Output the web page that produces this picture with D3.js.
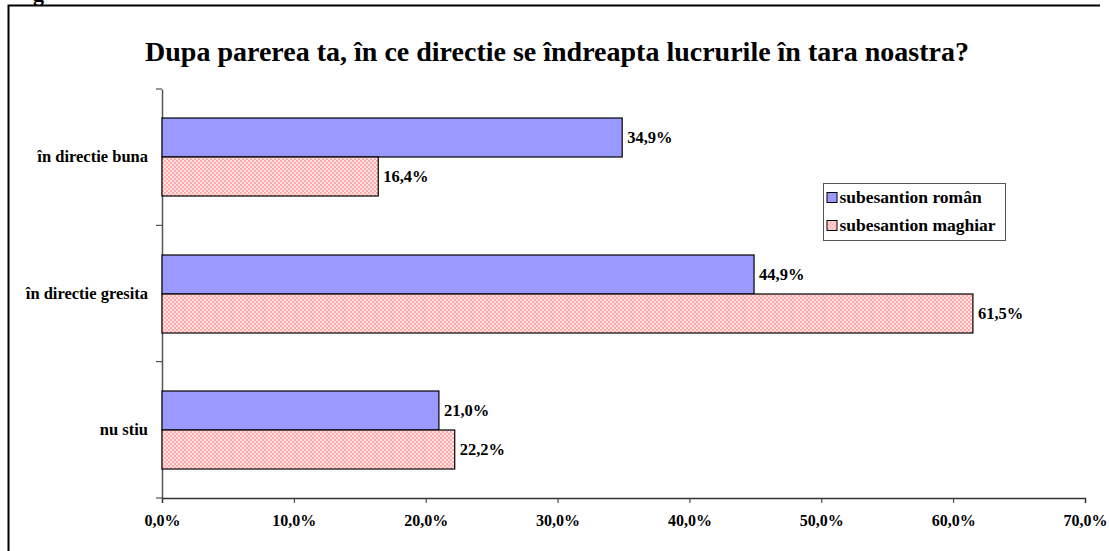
<!DOCTYPE html>
<html>
<head>
<meta charset="utf-8">
<script src="https://cdn.jsdelivr.net/npm/d3@7"></script>
<style>
  body { margin: 0; background: #fff; }
  svg { display: block; font-family: "Liberation Serif", "Times New Roman", serif; }
</style>
</head>
<body>
<div id="chart"></div>
<script>
// donnees
const categories = ["în directie buna", "în directie gresita", "nu stiu"];
const seriesNames = ["subesantion român", "subesantion maghiar"];
const roman = [34.9, 44.9, 21.0];
const maghiar = [16.4, 61.5, 22.2];
const xTicks = [0, 10, 20, 30, 40, 50, 60, 70];

const W = 1109, H = 551;
const margin = {top: 89, left: 162, right: W - 1085, bottom: H - 498};
const width = W - margin.left - margin.right,
      height = H - margin.top - margin.bottom;

const svg = d3.select("#chart").append("svg")
  .attr("width", W).attr("height", H);

// motif damier rose pour la serie maghiar
const defs = svg.append("defs");
const pat = defs.append("pattern")
  .attr("id", "checker")
  .attr("width", 4).attr("height", 4)
  .attr("patternUnits", "userSpaceOnUse");
pat.append("rect").attr("width", 4).attr("height", 4).attr("fill", "#ffe2e2")
  .attr("shape-rendering", "crispEdges");
pat.append("path").attr("d", "M0,0h2v2h-2z M2,2h2v2h-2z").attr("fill", "#ffaaaa")
  .attr("shape-rendering", "crispEdges");

// cadre
svg.append("path")
  .attr("d", "M8.5,560 V5.5 H1100")
  .attr("fill", "none").attr("stroke", "#000").attr("stroke-width", 2);
svg.append("text").attr("x", 33).attr("y", 1)
  .attr("font-size", 22).attr("font-weight", "bold").text("g");

// titre
svg.append("text")
  .attr("x", 557).attr("y", 61)
  .attr("text-anchor", "middle")
  .attr("font-size", 28).attr("font-weight", "bold")
  .text("Dupa parerea ta, în ce directie se îndreapta lucrurile în tara noastra?");

const g = svg.append("g")
  .attr("transform", "translate(" + margin.left + "," + margin.top + ")");

const x = d3.scaleLinear().domain([0, 70]).range([0, width]);
const y = d3.scaleBand().domain(categories).range([0, height]);
const sub = d3.scaleBand().domain([0, 1]).range([0, 78]);

// axes
const xAxis = g.append("g")
  .attr("transform", "translate(0," + height + ")")
  .call(d3.axisBottom(x).tickValues(xTicks).tickSize(5).tickPadding(12)
    .tickFormat(d => d.toFixed(1).replace(".", ",") + "%"));
xAxis.select(".domain").attr("stroke", "#333").attr("stroke-width", 1.5);
xAxis.selectAll("line").attr("stroke", "#333");
xAxis.selectAll("text")
  .attr("font-family", "Liberation Serif").attr("font-size", 16).attr("font-weight", "bold");

const yAxis = g.append("g")
  .call(d3.axisLeft(y).tickSize(0).tickPadding(14));
yAxis.select(".domain").attr("stroke", "#555").attr("stroke-width", 1.5);
yAxis.selectAll("text")
  .attr("font-family", "Liberation Serif").attr("font-size", 16.5).attr("font-weight", "bold");
// graduations entre categories
g.append("g").selectAll("line")
  .data(d3.range(categories.length + 1))
  .join("line")
  .attr("x1", -6).attr("x2", 0)
  .attr("y1", i => i * y.step()).attr("y2", i => i * y.step())
  .attr("stroke", "#333");

// barres
const rows = categories.map((c, i) => ({cat: c, vals: [roman[i], maghiar[i]]}));
const fills = ["#9999ff", "url(#checker)"];
const grp = g.selectAll(".cat").data(rows).join("g")
  .attr("transform", d => "translate(0," + Math.round(y(d.cat) + (y.bandwidth() - 78) / 2) + ")");

grp.selectAll("rect")
  .data(d => d.vals.map((v, k) => ({v, k})))
  .join("rect")
  .attr("x", 0)
  .attr("y", d => sub(d.k))
  .attr("width", d => x(d.v))
  .attr("height", sub.bandwidth())
  .attr("fill", d => fills[d.k])
  .attr("stroke", "#000").attr("stroke-width", 1.2);

grp.selectAll("text.val")
  .data(d => d.vals.map((v, k) => ({v, k})))
  .join("text")
  .attr("class", "val")
  .attr("x", d => x(d.v) + 5)
  .attr("y", d => sub(d.k) + sub.bandwidth() / 2 + 5)
  .attr("font-size", 16.5).attr("font-weight", "bold")
  .text(d => d.v.toFixed(1).replace(".", ",") + "%");

// legende
const leg = svg.append("g").attr("transform", "translate(823.5,183.5)");
leg.append("rect").attr("width", 182).attr("height", 57)
  .attr("fill", "#fff").attr("stroke", "#555");
seriesNames.forEach((s, i) => {
  leg.append("rect").attr("x", 3.5).attr("y", 9 + i * 28)
    .attr("width", 10).attr("height", 10)
    .attr("fill", fills[i]).attr("stroke", "#000");
  leg.append("text").attr("x", 16).attr("y", 19 + i * 28)
    .attr("font-size", 17.5).attr("font-weight", "bold").text(s);
});
</script>
</body>
</html>
